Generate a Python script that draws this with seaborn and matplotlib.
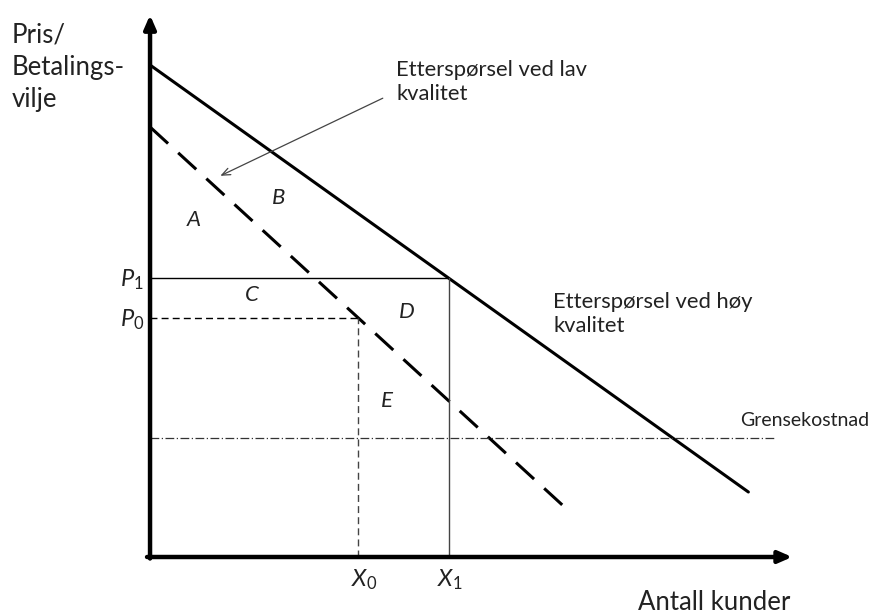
import matplotlib
matplotlib.use("Agg")
import matplotlib.pyplot as plt
import seaborn as sns
import numpy as np
import pandas as pd

# demand curves (quantity, price) in diagram units
hoy_x = [0.0, 9.97]
hoy_y = [9.84, 1.30]
lav_x = [0.0, 6.87]
lav_y = [8.60, 1.04]

# equilibrium points
X0, P0 = 3.47, 4.78
X1, P1 = 4.98, 5.58
grensekostnad = 2.38
gk_end = 10.42

area_labels = ["A", "B", "C", "D", "E"]
area_x = [0.72, 2.15, 1.70, 4.28, 3.95]
area_y = [6.74, 7.18, 5.24, 4.90, 3.12]

sns.set_style("white")
plt.rcParams['font.family'] = ['Lato', 'DejaVu Sans']
plt.rcParams['mathtext.fontset'] = 'custom'
plt.rcParams['mathtext.it'] = 'Lato:italic'
plt.rcParams['mathtext.rm'] = 'Lato'

fig = plt.figure(figsize=(8.69, 6.14), dpi=100)
ax = fig.add_axes([0, 0, 1, 1])
ax.set_xlim(-2.5, 11.98)
ax.set_ylim(-1.14, 11.14)
ax.axis("off")


def seg(xs, ys, **kw):
    # plain segment, no aggregation/sorting
    sns.lineplot(x=xs, y=ys, ax=ax, estimator=None, sort=False, **kw)


# axes with arrows
ax.annotate("", xy=(0, 10.84), xytext=(0, -0.03),
            arrowprops=dict(arrowstyle="-|>,head_length=0.8,head_width=0.35", lw=3.2, color="black",
                            shrinkA=0, shrinkB=0))
ax.annotate("", xy=(10.7, 0), xytext=(-0.05, 0),
            arrowprops=dict(arrowstyle="-|>,head_length=0.8,head_width=0.35", lw=3.2, color="black",
                            shrinkA=0, shrinkB=0))

# demand curves
seg(hoy_x, hoy_y, color="black", lw=2.2)
seg(lav_x, lav_y, color="black", lw=2.2, linestyle=(0, (8, 4.5)))

# P1 / X1 guide lines
seg([0, X1], [P1, P1], color="black", lw=1.0)
seg([X1, X1], [0, P1], color="#444444", lw=1.0)
# P0 / X0 guide lines
seg([0, X0], [P0, P0], color="black", lw=1.0, linestyle=(0, (5, 3)))
seg([X0, X0], [0, P0], color="#444444", lw=1.0, linestyle=(0, (5, 3)))
# marginal cost
seg([0, gk_end], [grensekostnad, grensekostnad], color="#333333",
    lw=0.9, linestyle=(0, (7, 2, 1, 2)))

ax.text(-2.3, 10.7, "Pris/\nBetalings-\nvilje", fontsize=18.5, va="top", ha="left", linespacing=1.38,
        color="#222222")
ax.text(4.1, 9.95, "Etterspørsel ved lav\nkvalitet", fontsize=15.8, va="top", ha="left",
        linespacing=1.25, color="#222222")
ax.annotate("", xy=(1.13, 7.6), xytext=(3.92, 9.2),
            arrowprops=dict(arrowstyle="->,head_length=0.6,head_width=0.25", lw=0.9, color="#444444"))
ax.text(6.72, 5.3, "Etterspørsel ved høy\nkvalitet", fontsize=15.8, va="top", ha="left",
        linespacing=1.25, color="#222222")
ax.text(9.83, 2.74, "Grensekostnad", fontsize=14, va="center", ha="left", color="#222222")
ax.text(10.67, -0.9, "Antall kunder", fontsize=18.5, va="center", ha="right", color="#222222")

for lab, x, y in zip(area_labels, area_x, area_y):
    ax.text(x, y, lab, fontsize=16, style="italic", ha="center", va="center", color="#222222")

ax.text(-0.1, P1 - 0.04, r"$\mathit{P_1}$", fontsize=17, ha="right", va="center", color="#222222")
ax.text(-0.1, P0 - 0.04, r"$\mathit{P_0}$", fontsize=17, ha="right", va="center", color="#222222")
ax.text(X0 + 0.1, -0.45, r"$\mathit{X_0}$", fontsize=17, ha="center", va="center", color="#222222")
ax.text(X1 + 0.02, -0.45, r"$\mathit{X_1}$", fontsize=17, ha="center", va="center", color="#222222")

fig.savefig("out.png", dpi=100)
